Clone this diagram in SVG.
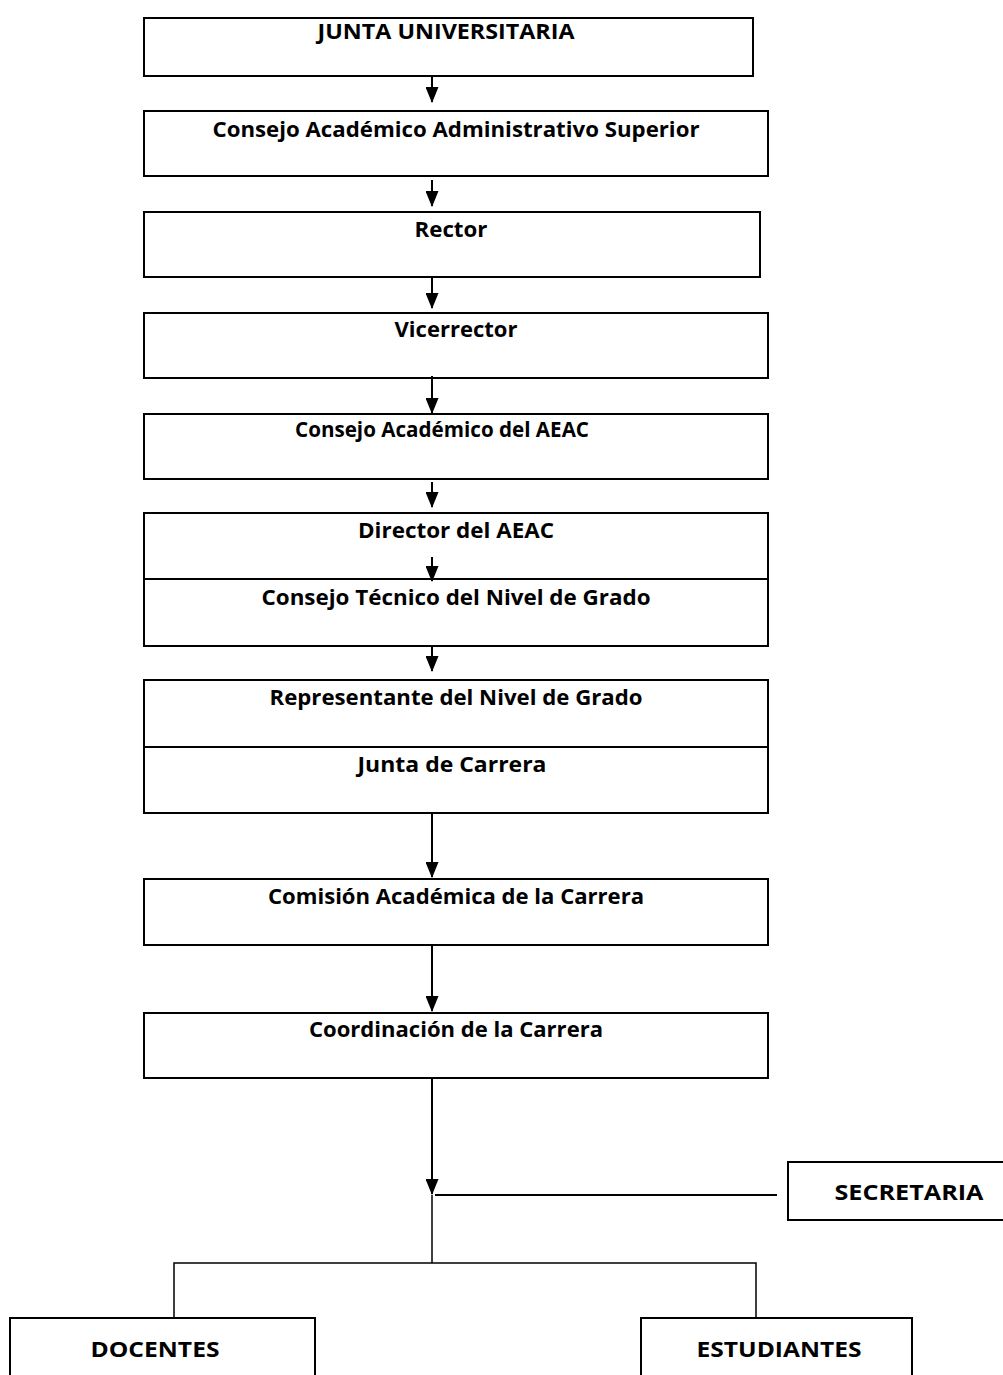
<svg xmlns="http://www.w3.org/2000/svg" width="1003" height="1375" viewBox="0 0 1003 1375">
<style>
.box{fill:#fff;stroke:#000;stroke-width:2}
.t{font-family:"Open Sans","Liberation Sans",sans-serif;font-weight:bold;font-size:21px;fill:#000;text-anchor:middle}
.c{stroke:#000;stroke-width:2;fill:none}
.c2{stroke:#000;stroke-width:1.5;fill:none}
</style>
<defs>
<marker id="ah" markerWidth="16" markerHeight="13" refX="15" refY="6.5" orient="auto" markerUnits="userSpaceOnUse" viewBox="0 0 16 13">
<path d="M0,0 L16,6.5 L0,13 Z" fill="#000"/>
</marker>
</defs>
<rect width="1003" height="1375" fill="#fff"/>
<g id="n1"><rect class="box" x="144" y="18" width="609" height="58"/><text class="t" x="446" y="39" textLength="257" lengthAdjust="spacingAndGlyphs">JUNTA UNIVERSITARIA</text></g>
<g id="n2"><rect class="box" x="144" y="111" width="624" height="65"/><text class="t" x="456" y="137" textLength="487" lengthAdjust="spacingAndGlyphs">Consejo Académico Administrativo Superior</text></g>
<g id="n3"><rect class="box" x="144" y="212" width="616" height="65"/><text class="t" x="451" y="237" textLength="73" lengthAdjust="spacingAndGlyphs">Rector</text></g>
<g id="n4"><rect class="box" x="144" y="313" width="624" height="65"/><text class="t" x="456" y="337" textLength="123" lengthAdjust="spacingAndGlyphs">Vicerrector</text></g>
<g id="n5"><rect class="box" x="144" y="414" width="624" height="65"/><text class="t" x="442" y="437" textLength="294" lengthAdjust="spacingAndGlyphs">Consejo Académico del AEAC</text></g>
<g id="n6"><rect class="box" x="144" y="513" width="624" height="66"/><text class="t" x="456" y="538" textLength="196" lengthAdjust="spacingAndGlyphs">Director del AEAC</text></g>
<g id="n7"><rect class="box" x="144" y="579" width="624" height="67"/><text class="t" x="456" y="605" textLength="389" lengthAdjust="spacingAndGlyphs">Consejo Técnico del Nivel de Grado</text></g>
<g id="n8"><rect class="box" x="144" y="680" width="624" height="67"/><text class="t" x="456" y="705" textLength="373" lengthAdjust="spacingAndGlyphs">Representante del Nivel de Grado</text></g>
<g id="n9"><rect class="box" x="144" y="747" width="624" height="66"/><text class="t" x="452" y="772" textLength="189" lengthAdjust="spacingAndGlyphs">Junta de Carrera</text></g>
<g id="n10"><rect class="box" x="144" y="879" width="624" height="66"/><text class="t" x="456" y="904" textLength="376" lengthAdjust="spacingAndGlyphs">Comisión Académica de la Carrera</text></g>
<g id="n11"><rect class="box" x="144" y="1013" width="624" height="65"/><text class="t" x="456" y="1037" textLength="294" lengthAdjust="spacingAndGlyphs">Coordinación de la Carrera</text></g>
<g id="n12"><rect class="box" x="788" y="1162" width="220" height="58"/><text class="t" x="909" y="1200" textLength="149" lengthAdjust="spacingAndGlyphs">SECRETARIA</text></g>
<g id="n13"><rect class="box" x="10" y="1318" width="305" height="70"/><text class="t" x="155" y="1357" textLength="129" lengthAdjust="spacingAndGlyphs">DOCENTES</text></g>
<g id="n14"><rect class="box" x="641" y="1318" width="271" height="70"/><text class="t" x="779" y="1357" textLength="165" lengthAdjust="spacingAndGlyphs">ESTUDIANTES</text></g>
<g id="connectors">
<line class="c" x1="432" y1="77" x2="432" y2="102" marker-end="url(#ah)"/>
<line class="c" x1="432" y1="180" x2="432" y2="206" marker-end="url(#ah)"/>
<line class="c" x1="432" y1="277" x2="432" y2="308" marker-end="url(#ah)"/>
<line class="c" x1="432" y1="376" x2="432" y2="413" marker-end="url(#ah)"/>
<line class="c" x1="432" y1="482" x2="432" y2="507" marker-end="url(#ah)"/>
<line class="c" x1="432" y1="557" x2="432" y2="581" marker-end="url(#ah)"/>
<line class="c" x1="432" y1="647" x2="432" y2="671" marker-end="url(#ah)"/>
<line class="c" x1="432" y1="813" x2="432" y2="877" marker-end="url(#ah)"/>
<line class="c" x1="432" y1="945" x2="432" y2="1011" marker-end="url(#ah)"/>
<line class="c" x1="432" y1="1078" x2="432" y2="1194" marker-end="url(#ah)"/>
<line class="c" x1="435" y1="1195" x2="777" y2="1195"/>
<polyline class="c2" points="432,1195 432,1263"/>
<polyline class="c2" points="174,1318 174,1263 756,1263 756,1318"/>
</g>
</svg>
